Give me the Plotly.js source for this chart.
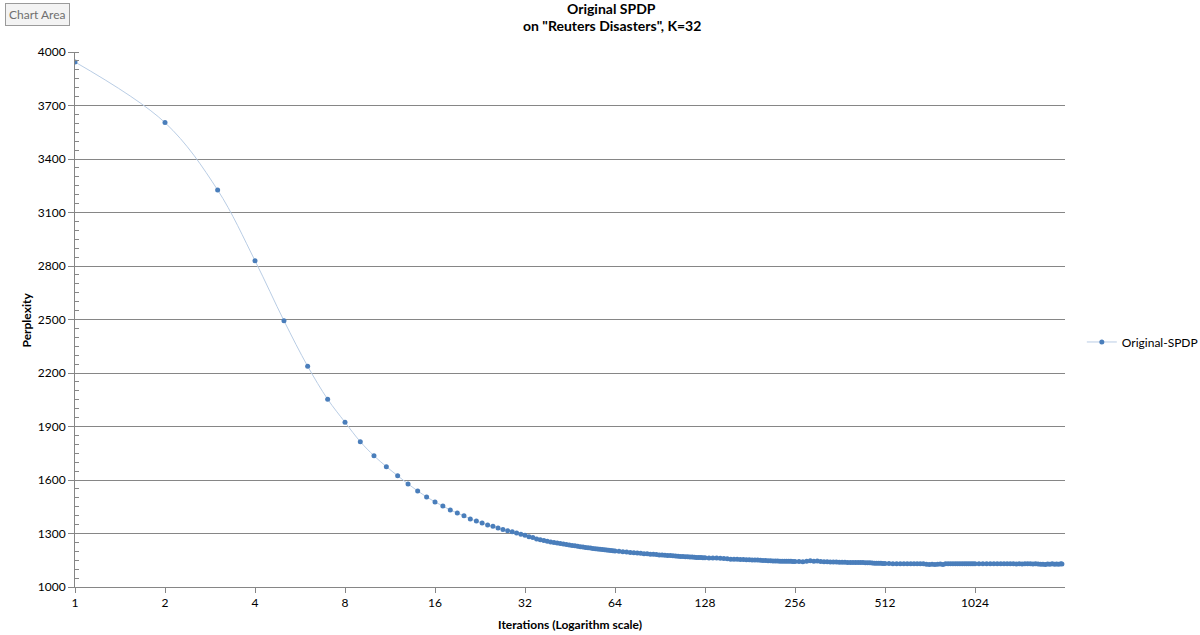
<!DOCTYPE html>
<html>
<head>
<meta charset="utf-8">
<script src="https://cdn.plot.ly/plotly-3.0.1.min.js"></script>
<style>html,body{margin:0;padding:0;background:#fff;}#chart{width:1200px;height:635px;}</style>
</head>
<body>
<div id="chart"></div>
<script>
// Iteration numbers (x) and perplexity (y)
const iterations = [
  1,2,3,4,5,6,7,8,9,10,11,12,13,14,15,16,17,18,19,20,
  21,22,23,24,25,26,27,28,29,30,31,32,33,34,35,36,37,38,39,40,
  41,42,43,44,45,46,47,48,49,50,51,52,53,54,55,56,57,58,59,60,61,62,63,64,
  66,68,70,72,74,76,78,80,82,84,86,88,90,92,94,96,98,100,102,104,106,108,110,112,114,116,118,120,122,124,126,128,
  132,136,140,144,148,152,156,160,164,168,172,176,180,184,188,192,196,200,204,208,212,216,220,224,228,232,236,240,244,248,252,256,
  264,272,280,288,296,304,312,320,328,336,344,352,360,368,376,384,392,400,408,416,424,432,440,448,456,464,472,480,488,496,504,512,
  528,544,560,576,592,608,624,640,656,672,688,704,720,736,752,768,784,800,816,832,848,864,880,896,912,928,944,960,976,992,1008,1024,
  1056,1088,1120,1152,1184,1216,1248,1280,1312,1344,1376,1408,1440,1472,1504,1536,1568,1600,1632,1664,1696,1728,1760,1792,1824,1856,1888,1920,1952,1984,2000
];
const perplexity = [
  3944,3604,3226,2830,2493,2238,2053,1924,1815,1736,1675,1624,1578,1539,1505,1477,1454,1432,1415,1399,
  1382,1370,1359,1348,1341,1331,1322,1316,1310,1303,1296,1290,1282,1277,1269,1265,1261,1257,1253,1250,
  1247,1244,1241,1238,1236,1233,1231,1228,1226,1224,1222,1220,1218,1216,1215,1213,1212,1210,1209,1207,1206,1205,1203,1202,
  1200,1198,1196,1194,1192,1190,1189,1187,1186,1184,1183,1182,1180,1179,1178,1177,1176,1175,1174,1173,1171,1171,1170,1169,1168,1168,1167,1166,1166,1165,1164,1164,
  1163,1162,1162,1161,1160,1158,1156,1155,1155,1154,1154,1153,1153,1152,1152,1151,1150,1149,1148,1147,1147,1146,1146,1146,1145,1145,1145,1144,1144,1144,1143,1143,
  1143,1142,1145,1147,1144,1146,1143,1141,1141,1140,1140,1140,1139,1139,1139,1138,1138,1138,1137,1137,1137,1137,1136,1136,1136,1134,1133,1133,1133,1133,1132,1132,
  1132,1131,1131,1131,1131,1131,1130,1131,1130,1130,1130,1127,1126,1128,1126,1127,1129,1126,1130,1130,1130,1130,1130,1130,1130,1130,1130,1130,1130,1130,1130,1130,
  1130,1130,1130,1130,1130,1130,1130,1130,1130,1130,1130,1129,1130,1129,1130,1130,1130,1129,1130,1129,1127,1128,1126,1129,1128,1130,1127,1129,1128,1130,1129
];
const xTickVals = [1,2,4,8,16,32,64,128,256,512,1024];
const xTickText = ["1","2","4","8","16","32","64","128","256","512","1024"];
const seriesName = "Original-SPDP";
const titleLines = ["Original SPDP", "on \"Reuters Disasters\", K=32"];
const xTitle = "Iterations (Logarithm scale)";
const yTitle = "Perplexity";

const FONT = "Lato, 'Liberation Sans', sans-serif";

const trace = {
  x: iterations,
  y: perplexity,
  type: "scatter",
  mode: "lines+markers",
  name: seriesName,
  line: {color: "#b9cde5", width: 1, shape: "spline", smoothing: 1},
  marker: {color: "#4a7ebb", size: 5, symbol: "circle"}
};

const layout = {
  width: 1200,
  height: 635,
  paper_bgcolor: "#ffffff",
  plot_bgcolor: "#ffffff",
  margin: {l: 75, r: 135, t: 52, b: 48, autoexpand: false},
  font: {family: FONT, size: 12, color: "#000"},
  xaxis: {
    type: "log",
    range: [0, Math.log10(2048)],
    tickmode: "array",
    tickvals: xTickVals,
    ticktext: xTickText,
    ticks: "outside",
    ticklen: 5,
    tickcolor: "#868686",
    showgrid: false,
    showline: true,
    linecolor: "#868686",
    linewidth: 1,
    zeroline: false,
    tickfont: {family: FONT, size: 12, color: "#000"}
  },
  yaxis: {
    range: [1000, 4000],
    dtick: 300,
    tick0: 1000,
    ticks: "outside",
    ticklen: 6,
    tickcolor: "#868686",
    showgrid: true,
    gridcolor: "#868686",
    gridwidth: 1,
    showline: true,
    linecolor: "#868686",
    linewidth: 1,
    zeroline: false,
    tickfont: {family: FONT, size: 12, color: "#000"},
    minor: {dtick: 50, ticks: "inside", ticklen: 4, tickcolor: "#868686", showgrid: false}
  },
  showlegend: true,
  legend: {
    x: 1.017, xanchor: "left",
    y: 0.458, yanchor: "middle",
    itemwidth: 30,
    font: {family: FONT, size: 12, color: "#000"},
    bgcolor: "rgba(0,0,0,0)"
  },
  annotations: [
    {
      text: "<b>" + titleLines[0] + "</b>",
      xref: "paper", yref: "paper", x: 0.5424, y: 1.0822,
      xanchor: "center", yanchor: "middle", showarrow: false,
      font: {family: FONT, size: 14, color: "#000"}
    },
    {
      text: "<b>" + titleLines[1] + "</b>",
      xref: "paper", yref: "paper", x: 0.5424, y: 1.0486,
      xanchor: "center", yanchor: "middle", showarrow: false,
      font: {family: FONT, size: 14, color: "#000"}
    },
    {
      text: "<b>" + xTitle + "</b>",
      xref: "paper", yref: "paper", x: 0.5, y: -0.071,
      xanchor: "center", yanchor: "middle", showarrow: false,
      font: {family: FONT, size: 12, color: "#000"}
    },
    {
      text: "<b>" + yTitle + "</b>",
      xref: "paper", yref: "paper", x: -0.0485, y: 0.5,
      xanchor: "center", yanchor: "middle", showarrow: false, textangle: -90,
      font: {family: FONT, size: 12, color: "#000"}
    },
    {
      text: "Chart Area",
      xref: "paper", yref: "paper",
      x: -0.0707, y: 1.071,
      xanchor: "left", yanchor: "middle",
      showarrow: false,
      font: {family: FONT, size: 12, color: "#6f6f6f"},
      bgcolor: "#f3f3f3",
      bordercolor: "#9a9a9a",
      borderwidth: 1,
      borderpad: 3
    }
  ]
};

Plotly.newPlot("chart", [trace], layout, {displayModeBar: false, staticPlot: true});
</script>
</body>
</html>
